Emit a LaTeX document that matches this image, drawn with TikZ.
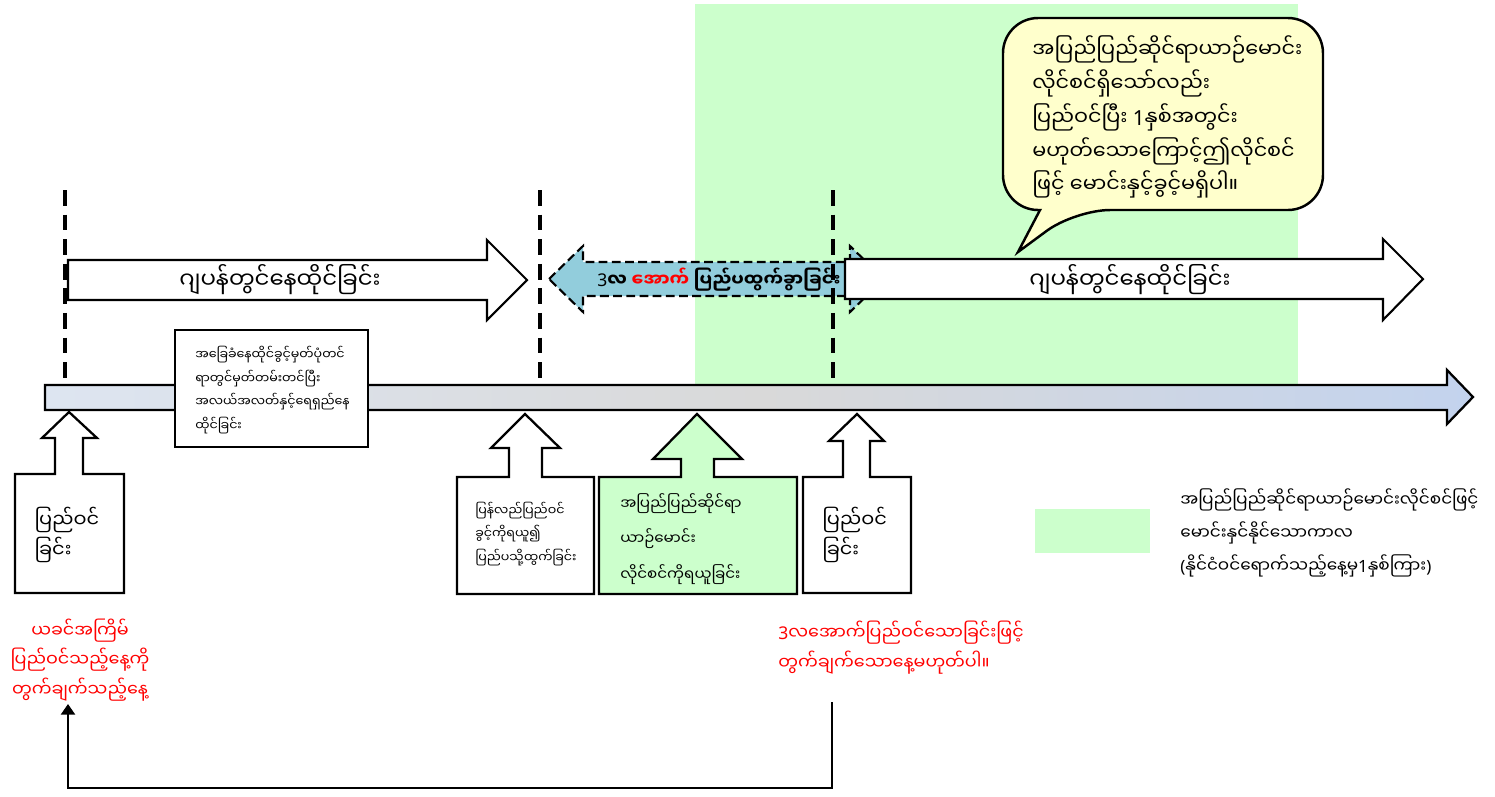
\documentclass[tikz,border=0pt]{standalone}
\usepackage{fontspec}
\usepackage{tikz}
\usetikzlibrary{arrows.meta}
\newfontfamily\mm[Script=Myanmar]{Noto Sans Myanmar UI}
\newfontfamily\lat{Noto Sans}
\definecolor{licence}{HTML}{CCFFCC}
\definecolor{bubble}{HTML}{FFFFCC}
\definecolor{abroad}{HTML}{92CDDC}
\definecolor{axL}{HTML}{DDE5F1}
\definecolor{axM}{HTML}{D9D9D9}
\definecolor{axR}{HTML}{C3D3EE}
\tikzstyle{box} = [draw, line width=1.3pt, fill=white]
\tikzstyle{guide} = [line width=1.8pt, dash pattern=on 9pt off 5pt]
\tikzstyle{txt} = [inner sep=0pt, align=left]
\tikzstyle{big} = [txt, font=\mm\fontsize{13}{19}\selectfont]
\tikzstyle{small} = [txt, font=\mm\fontsize{7.2}{13.6}\selectfont]
\tikzstyle{mid} = [txt, font=\mm\fontsize{11}{17}\selectfont]
\tikzstyle{note} = [txt, align=center, text=red, font=\mm\fontsize{10}{17}\selectfont]

\begin{document}
\begin{tikzpicture}[x=0.02cm, y=-0.02cm]
    \useasboundingbox (0,0) rectangle (1495,796);
    % licence period
    \fill[licence] (695,4) rectangle (1298,384);
    % time line
    \draw[line width=1.3pt, left color=axL, right color=axR, middle color=axM]
        (45,385) -- (1447,385) -- (1447,370) -- (1473,397) -- (1447,424) -- (1447,410) -- (45,410) -- cycle;
    % stays and the trip abroad
    \draw[line width=1.2pt, fill=abroad, dash pattern=on 5pt off 2.5pt]
        (549,279) -- (583,246) -- (583,262) -- (850,262) -- (850,246) -- (884,279)
        -- (850,312) -- (850,296) -- (583,296) -- (583,312) -- cycle;
    \draw[line width=1.2pt, fill=white]
        (68,260) -- (487,260) -- (487,240) -- (527,280) -- (487,320) -- (487,300) -- (68,300) -- cycle;
    \draw[line width=1.2pt, fill=white]
        (845,259) -- (1383,259) -- (1383,239) -- (1423,279) -- (1383,320) -- (1383,299) -- (845,299) -- cycle;
    \node (stay1) [big, align=center] at (280,280) {ဂျပန်တွင်နေထိုင်ခြင်း};
    \node (trip) [big, align=center, font=\mm\fontsize{10}{19}\selectfont] at (719,280) {\bfseries{\lat 3}လ \textcolor{red}{အောက်} ပြည်ပထွက်ခွာခြင်း};
    \node (stay2) [big, align=center] at (1130,280) {ဂျပန်တွင်နေထိုင်ခြင်း};
    \foreach \x in {65,540,833}
        \draw[guide] (\x,190) -- (\x,383);
    % speech bubble
    \draw[line width=1.4pt, fill=bubble, rounded corners=20pt]
        (1160,18) -- (1323,18) -- (1323,210) -- (1075,210) [sharp corners] -- (1018,252) -- (1040,210)
        [rounded corners=20pt] -- (1003,210) -- (1003,18) -- cycle;
    \node (say) [big, anchor=west, font=\mm\fontsize{11.8}{19.3}\selectfont] at (1032,117) {အပြည်ပြည်ဆိုင်ရာယာဉ်မောင်း\\လိုင်စင်ရှိသော်လည်း\\ပြည်ဝင်ပြီး {\lat 1}နှစ်အတွင်း\\မဟုတ်သောကြောင့်ဤလိုင်စင်\\ဖြင့် မောင်းနှင့်ခွင့်မရှိပါ။};
    % resident box on the time line
    \draw[box] (175,330) rectangle (368,447);
    \node (res) [small, anchor=west] at (195,390) {အခြေခံနေထိုင်ခွင့်မှတ်ပုံတင်\\ရာတွင်မှတ်တမ်းတင်ပြီး\\အလယ်အလတ်နှင့်ရေရှည်နေ\\ထိုင်ခြင်း};
    % events below the time line
    \draw[box] (15,593) |- (55,474) |- (42,438) -- (69,412) -- (97,438) -| (83,474) -| (124,593) -- cycle;
    \draw[box] (457,594) |- (509,477) |- (491,448) -- (525,414) -- (560,448) -| (542,477) -| (594,594) -- cycle;
    \draw[box, fill=licence] (599,594) |- (681,477) |- (653,459) -- (697,414) -- (742,459) -| (714,477) -| (797,594) -- cycle;
    \draw[box] (803,593) |- (843,477) |- (829,441) -- (857,414) -- (884,441) -| (870,477) -| (911,593) -- cycle;
    \node (in1) [mid] at (67,535) {ပြည်ဝင်\\ခြင်း};
    \node (reentry) [small, anchor=west] at (475,534) {ပြန်လည်ပြည်ဝင်\\ခွင့်ကိုရယူ၍\\ပြည်ပသို့ထွက်ခြင်း};
    \node (get) [mid, anchor=west, font=\mm\fontsize{8.6}{20}\selectfont] at (620,539) {အပြည်ပြည်ဆိုင်ရာ\\ယာဉ်မောင်း\\လိုင်စင်ကိုရယူခြင်း};
    \node (in2) [mid, anchor=west] at (822,535) {ပြည်ဝင်\\ခြင်း};
    \node (prev) [note] at (80,660) {ယခင်အကြိမ်\\ပြည်ဝင်သည့်နေ့ကို\\တွက်ချက်သည့်နေ့};
    \node (notday) [note, align=left, anchor=west] at (778,648) {{\lat 3}လအောက်ပြည်ဝင်သောခြင်းဖြင့်\\တွက်ချက်သောနေ့မဟုတ်ပါ။};
    \coordinate (from) at (832,702);
    \coordinate (to) at (68,704);
    \draw[line width=1pt, -{Triangle[width=8pt,length=6pt]}] (from) -- (832,788) -| (to);
    % legend
    \fill[licence] (1035,509) rectangle (1150,553);
    \node (key) [mid, anchor=west, font=\mm\fontsize{9.6}{18.7}\selectfont] at (1180,533) {အပြည်ပြည်ဆိုင်ရာယာဉ်မောင်းလိုင်စင်ဖြင့်\\မောင်းနှင်နိုင်သောကာလ\\{\lat (}နိုင်ငံဝင်ရောက်သည့်နေ့မှ{\lat 1}နှစ်ကြား{\lat )}};
\end{tikzpicture}
\end{document}
